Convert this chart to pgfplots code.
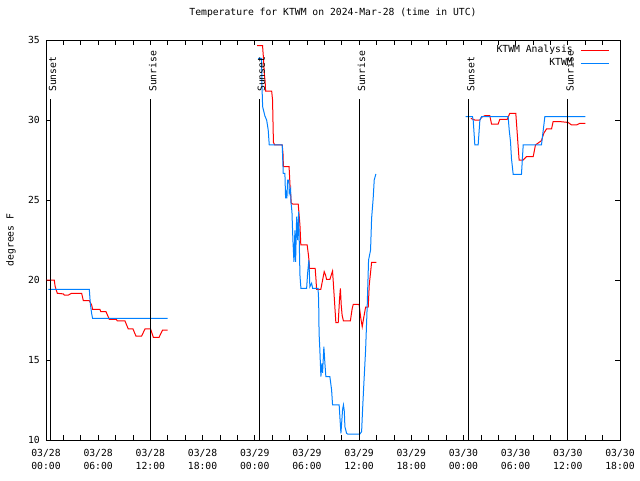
\documentclass[border=0pt]{standalone}
\usepackage{fontspec}
\setmainfont{DejaVu Sans Mono}
\usepackage{pgfplots}
\pgfplotsset{compat=1.18}
\definecolor{obsblue}{RGB}{0,128,255}
\begin{document}
\fontsize{7.3}{9.75}\selectfont
\begin{tikzpicture}
\begin{axis}[
  at={(0,0)}, anchor=south west, scale only axis,
  width=430.5pt, height=300pt,
  xmin=0, xmax=66, ymin=10, ymax=35,
  clip=false,
  unbounded coords=jump,
  xtick={0,6,...,66}, minor x tick num=2,
  xticklabels={{03/28\\00:00},{03/28\\06:00},{03/28\\12:00},{03/28\\18:00},{03/29\\00:00},{03/29\\06:00},{03/29\\12:00},{03/29\\18:00},{03/30\\00:00},{03/30\\06:00},{03/30\\12:00},{03/30\\18:00}},
  ytick={10,15,...,35},
  /pgf/number format/assume math mode=true,
  tick align=inside,
  major tick length=3.5pt, minor tick length=3.5pt,
  tick style={black, line width=0.5pt},
  axis line style={line width=0.6pt},
  xticklabel style={align=center, inner sep=0pt, yshift=-7pt, font=\fontsize{7.3}{9.75}\selectfont},
  yticklabel style={inner sep=0pt, xshift=-4.5pt, font=\fontsize{7.3}{9.75}\selectfont},
  title={Temperature for KTWM on 2024-Mar-28 (time in UTC)},
  title style={at={(axis description cs:0.5,1)}, anchor=base, yshift=12.4pt, inner sep=0pt},
  ylabel={degrees F},
  every axis y label/.style={at={(axis description cs:-0.061,0.5)}, rotate=90, anchor=center, inner sep=0pt},
  legend style={draw=none, fill=none, at={(axis description cs:1,1)}, anchor=north east, xshift=-8pt, yshift=-4pt, row sep=2.75pt, inner sep=0pt, nodes={inner sep=0pt, text height=5.5pt, text depth=1.5pt}, /tikz/every odd column/.style={column sep=5.8pt}, /tikz/every even column/.style={column sep=0pt}},
  legend plot pos=right,
  legend cell align=right,
  legend image code/.code={\draw[#1] (0pt,0pt) -- (20.7pt,0pt);},
]
% KTWM Analysis (red)
\addplot[red, line width=0.75pt] coordinates {
(0.08,20.0) (0.95,20.0) (1.05,19.6) (1.3,19.17) (2.0,19.13) (2.1,19.06) (2.57,19.06) (2.95,19.17) (4.1,19.17) (4.29,18.71) (4.98,18.71) (5.25,18.44) (5.36,18.17) (6.2,18.17) (6.3,18.02) (6.9,18.02) (7.28,17.54) (8.1,17.54) (8.2,17.44) (9.08,17.44) (9.46,16.94) (10.0,16.94) (10.34,16.5) (11.0,16.5) (11.38,16.94) (12.03,16.94) (12.34,16.42) (13.0,16.42) (13.41,16.875) (13.98,16.875)
(20,nan)
(24.29,34.65) (24.9,34.65) (25.0,33.9) (25.1,32.9) (25.2,32.4) (25.25,31.8) (25.95,31.8) (26.05,31.25) (26.15,28.6) (26.3,28.44) (27.16,28.44) (27.25,27.9) (27.3,27.08) (27.95,27.08) (28.05,26.0) (28.2,24.8) (28.36,24.75) (29.0,24.75) (29.2,23.44) (29.3,22.19) (30.03,22.19) (30.2,21.46) (30.3,20.73) (30.95,20.73) (31.05,20.0) (31.11,19.42) (31.6,19.42) (31.99,20.52) (32.15,20.3) (32.26,20.04) (32.64,20.04) (32.95,20.56) (33.14,18.96) (33.33,17.33) (33.6,17.33) (33.75,18.8) (33.85,19.48) (33.95,18.4) (34.05,17.8) (34.2,17.44) (35.0,17.44) (35.2,18.2) (35.33,18.48) (36.0,18.48) (36.2,17.6) (36.36,17.08) (36.55,17.7) (36.75,18.3) (37.05,18.3) (37.17,19.7) (37.44,21.1) (38.0,21.1)
(44,nan)
(48.85,30.1) (49.31,30.0) (49.89,30.0) (50.08,30.17) (50.46,30.27) (51.03,30.27) (51.23,29.75) (51.99,29.75) (52.18,30.04) (53.03,30.04) (53.33,30.42) (54.02,30.42) (54.21,28.96) (54.4,27.5) (54.87,27.5) (55.25,27.71) (56.02,27.71) (56.28,28.44) (56.97,28.71) (57.24,29.17) (57.55,29.44) (58.13,29.44) (58.31,29.9) (59.08,29.9) (60.03,29.85) (60.42,29.69) (61.0,29.69) (61.38,29.79) (62.03,29.79)
};
\addlegendentry{KTWM Analysis}
% KTWM observations (blue)
\addplot[obsblue, line width=0.75pt] coordinates {
(0.27,19.42) (4.98,19.42) (5.1,18.5) (5.25,17.9) (5.36,17.6) (13.98,17.6)
(20,nan)
(24.4,33.85) (24.79,33.85) (24.83,32.2) (24.91,30.83) (25.17,30.25) (25.37,30.0) (25.55,29.38) (25.67,28.44) (27.16,28.44) (27.28,26.67) (27.47,26.67) (27.55,25.1) (27.62,25.6) (27.7,25.1) (27.78,26.25) (27.93,26.25) (27.97,25.4) (28.13,25.7) (28.16,24.9) (28.28,24.27) (28.39,22.5) (28.51,21.14) (28.62,23.1) (28.7,21.14) (28.82,23.96) (28.93,22.5) (29.05,24.27) (29.2,20.3) (29.31,19.48) (29.97,19.48) (30.08,20.42) (30.23,21.25) (30.34,19.58) (30.54,19.8) (30.66,19.48) (31.28,19.48) (31.35,18.75) (31.4,16.67) (31.49,15.63) (31.61,13.96) (31.72,14.79) (31.8,14.2) (31.95,15.83) (32.07,14.79) (32.18,13.96) (32.64,13.96) (32.84,13.125) (32.95,12.19) (33.71,12.19) (33.79,11.46) (33.91,10.42) (34.02,11.25) (34.1,11.9) (34.2,12.19) (34.3,11.8) (34.37,10.83) (34.56,10.42) (34.67,10.375) (36.09,10.375) (36.29,10.52) (36.4,11.875) (36.55,13.54) (36.75,15.625) (36.93,18.33) (37.09,21.25) (37.32,21.875) (37.44,23.86) (37.62,25.1) (37.74,26.25) (37.93,26.625)
(44,nan)
(48.24,30.21) (49.04,30.21) (49.12,30.0) (49.31,28.44) (49.69,28.44) (49.89,30.0) (50.08,30.21) (53.14,30.21) (53.26,29.375) (53.41,28.65) (53.52,27.6) (53.72,26.6) (54.67,26.6) (54.87,28.44) (56.97,28.44) (57.36,30.21) (62.03,30.21)
};
\addlegendentry{KTWM}
% sunrise / sunset lines
\addplot[black, line width=0.75pt, forget plot] coordinates {(0.5,10) (0.5,31.3)};
\addplot[black, line width=0.75pt, forget plot] coordinates {(12.03,10) (12.03,31.3)};
\addplot[black, line width=0.75pt, forget plot] coordinates {(24.53,10) (24.53,31.3)};
\addplot[black, line width=0.75pt, forget plot] coordinates {(36.01,10) (36.01,31.3)};
\addplot[black, line width=0.75pt, forget plot] coordinates {(48.6,10) (48.6,31.3)};
\addplot[black, line width=0.75pt, forget plot] coordinates {(60.0,10) (60.0,31.3)};
\node[rotate=90, anchor=base west, inner sep=0pt] at (axis cs:1.15,31.75) {Sunset};
\node[rotate=90, anchor=base west, inner sep=0pt] at (axis cs:12.7,31.75) {Sunrise};
\node[rotate=90, anchor=base west, inner sep=0pt] at (axis cs:25.18,31.75) {Sunset};
\node[rotate=90, anchor=base west, inner sep=0pt] at (axis cs:36.68,31.75) {Sunrise};
\node[rotate=90, anchor=base west, inner sep=0pt] at (axis cs:49.25,31.75) {Sunset};
\node[rotate=90, anchor=base west, inner sep=0pt] at (axis cs:60.67,31.75) {Sunrise};
\end{axis}
\path[use as bounding box] (-34.5pt,-30pt) rectangle (445.5pt,330pt);
\end{tikzpicture}
\end{document}
